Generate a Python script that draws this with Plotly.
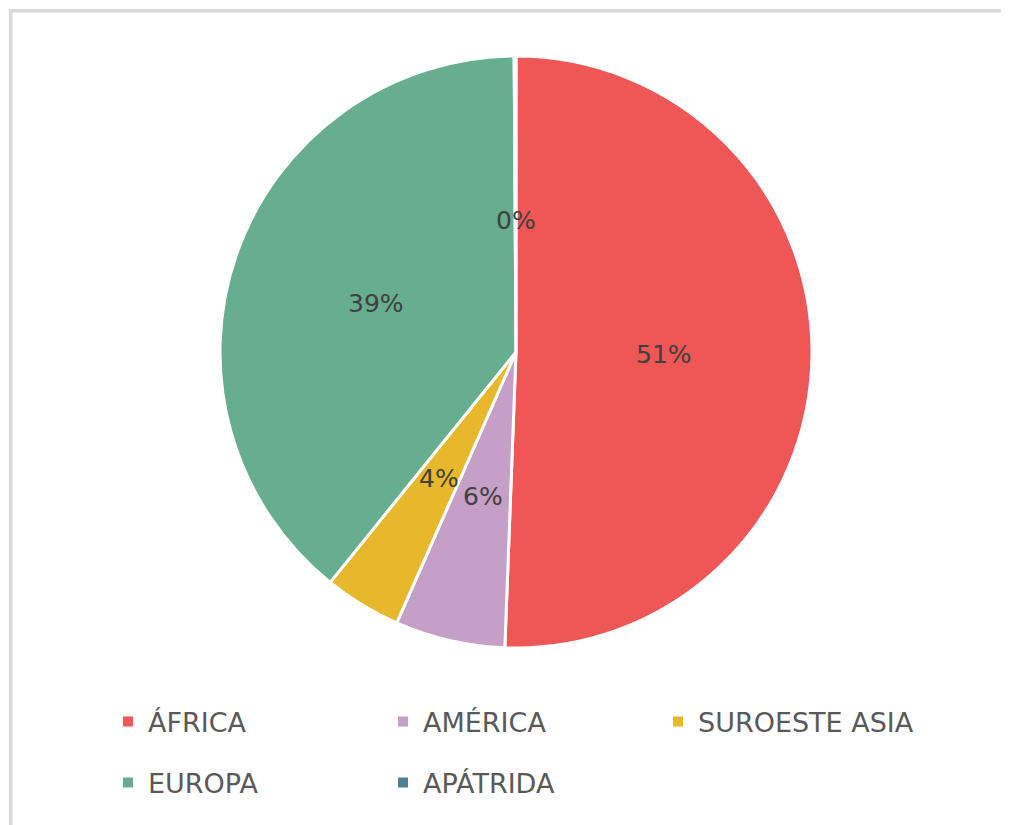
import math
import plotly.graph_objects as go

categories = ["ÁFRICA", "AMÉRICA", "SUROESTE ASIA", "EUROPA", "APÁTRIDA"]
values = [50.6, 6.0, 4.2, 39.1, 0.1]
colors = ["#EF5656", "#C59FC6", "#E7B82B", "#67AD8F", "#4F8196"]

W, H = 1009, 825
OFF = 8  # page body margin
cx, cy, R = 516 - OFF, 352 - OFF, 296  # pie centre and radius in px
FONT = "DejaVu Sans"

fig = go.Figure()
fig.add_trace(go.Pie(
    labels=categories, values=values, sort=False, direction="clockwise",
    rotation=0, marker=dict(colors=colors, line=dict(color="white", width=3)),
    textinfo="none", showlegend=False,
    domain=dict(x=[(cx - R) / W, (cx + R) / W], y=[1 - (cy + R) / H, 1 - (cy - R) / H]),
))

# percentage labels at half radius along each slice's mid angle
total = sum(values)
cum = 0
for v in values:
    mid = (cum + v / 2) / total * 2 * math.pi
    cum += v
    px = cx + 0.5 * R * math.sin(mid)
    py = cy - 0.5 * R * math.cos(mid)
    fig.add_annotation(x=px / W, y=1 - py / H, xref="paper", yref="paper",
                       text=f"{round(v / total * 100):.0f}%", showarrow=False,
                       font=dict(family=FONT, size=25, color="#404040"))

# legend entries (two rows, as two legends)
for i, (c, col) in enumerate(zip(categories, colors)):
    fig.add_trace(go.Scatter(
        x=[None], y=[None], mode="markers", name=c,
        marker=dict(symbol="square", size=10, color=col),
        legend="legend" if i < 3 else "legend2",
    ))

leg_common = dict(orientation="h", xanchor="left", yanchor="middle",
                  entrywidth=230, entrywidthmode="pixels",
                  font=dict(family=FONT, size=27, color="#595959"),
                  bgcolor="rgba(0,0,0,0)", itemsizing="trace")
fig.update_layout(
    width=W, height=H, margin=dict(l=0, r=0, t=0, b=0),
    paper_bgcolor="white", plot_bgcolor="white",
    xaxis=dict(visible=False), yaxis=dict(visible=False),
    legend=dict(x=(108 - OFF) / W, y=1 - (722 - OFF) / H, **leg_common),
    legend2=dict(x=(108 - OFF) / W, y=1 - (783 - OFF) / H, **leg_common),
    shapes=[dict(type="rect", xref="paper", yref="paper",
                 x0=(10.75 - OFF) / W, x1=1.05, y0=-0.05, y1=1 - (10.75 - OFF) / H,
                 line=dict(color="#D9D9D9", width=3.5), fillcolor="rgba(0,0,0,0)")],
)

fig.write_html("out.html")
